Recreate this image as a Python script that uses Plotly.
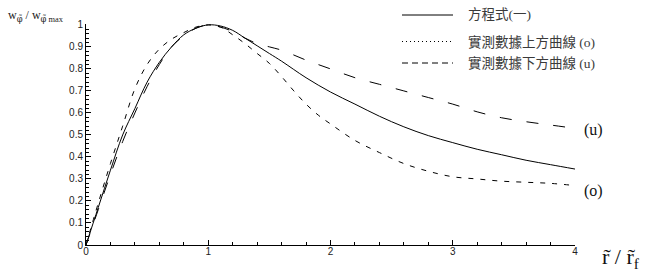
import plotly.graph_objects as go

# ---- data ----
x_eq = [0, 0.1, 0.2, 0.3, 0.4, 0.5, 0.6, 0.7, 0.8, 0.9, 1.0, 1.1, 1.2, 1.3, 1.4, 1.5, 1.6,
        1.8, 2.0, 2.2, 2.4, 2.6, 2.8, 3.0, 3.2, 3.4, 3.6, 3.8, 4.0]
y_eq = [0, 0.17, 0.34, 0.50, 0.62, 0.74, 0.83, 0.90, 0.955, 0.985, 1.0, 0.995, 0.975, 0.94,
        0.905, 0.87, 0.835, 0.76, 0.695, 0.64, 0.585, 0.537, 0.497, 0.465, 0.435, 0.41,
        0.385, 0.365, 0.345]

x_o = [0, 0.1, 0.2, 0.3, 0.4, 0.5, 0.6, 0.7, 0.8, 0.9, 1.0, 1.1, 1.2, 1.3, 1.4, 1.5, 1.6,
       1.7, 1.8, 1.9, 2.0, 2.2, 2.4, 2.6, 2.8, 3.0, 3.2, 3.4, 3.6, 3.8, 4.0]
y_o = [0, 0.19, 0.37, 0.54, 0.71, 0.82, 0.89, 0.935, 0.965, 0.99, 1.0, 0.99, 0.955, 0.915,
       0.87, 0.825, 0.765, 0.70, 0.64, 0.59, 0.55, 0.475, 0.42, 0.37, 0.335, 0.31, 0.30,
       0.29, 0.285, 0.28, 0.27]

x_u = [0, 0.1, 0.2, 0.3, 0.4, 0.5, 0.6, 0.7, 0.8, 0.9, 1.0, 1.1, 1.2, 1.3, 1.4, 1.5, 1.6,
       1.8, 2.0, 2.2, 2.4, 2.6, 2.8, 3.0, 3.2, 3.4, 3.6, 3.8, 4.0]
y_u = [0, 0.16, 0.32, 0.47, 0.60, 0.72, 0.82, 0.90, 0.95, 0.985, 1.0, 0.99, 0.97, 0.94,
       0.915, 0.90, 0.885, 0.84, 0.80, 0.76, 0.73, 0.70, 0.67, 0.64, 0.605, 0.578, 0.56,
       0.545, 0.53]

legend_labels = ["方程式(一)", "實測數據上方曲線 (o)", "實測數據下方曲線 (u)"]
x_ticks = [0, 1, 2, 3, 4]
y_ticks = [0, 0.1, 0.2, 0.3, 0.4, 0.5, 0.6, 0.7, 0.8, 0.9, 1]

W, H = 657, 277
ML, MR, MT, MB = 86, 82, 24, 32
PW, PH = W - ML - MR, H - MT - MB


def px_to_paper(px, py):
    return (px - ML) / PW, (H - MB - py) / PH


fig = go.Figure()
fig.add_trace(go.Scatter(x=x_eq, y=y_eq, mode="lines", line_shape="spline",
                         line=dict(color="black", width=1), showlegend=False))
fig.add_trace(go.Scatter(x=x_o, y=y_o, mode="lines", line_shape="spline",
                         line=dict(color="black", width=1, dash="5px,7px"), showlegend=False))
fig.add_trace(go.Scatter(x=x_u, y=y_u, mode="lines", line_shape="spline",
                         line=dict(color="black", width=1, dash="12px,15px"), showlegend=False))

serif = "Liberation Serif, Noto Sans CJK TC, serif"

# manual legend
leg_rows = [15, 41.5, 63]
leg_dash = ["solid", "1px,3px", "6px,4px"]
for lab, ry, dsh in zip(legend_labels, leg_rows, leg_dash):
    x0, y0 = px_to_paper(402, ry)
    x1, _ = px_to_paper(453, ry)
    fig.add_shape(type="line", xref="paper", yref="paper", x0=x0, x1=x1, y0=y0, y1=y0,
                  line=dict(color="black", width=1, dash=dsh))
    tx, ty = px_to_paper(466, ry)
    fig.add_annotation(xref="paper", yref="paper", x=tx, y=ty, xanchor="left", yanchor="middle",
                       text=lab, showarrow=False, font=dict(family=serif, size=13.5, color="#3a3a3a"))

# y-axis title
phi = "<span style='font-family:DejaVu Serif'>φ̃</span>"
ax, ay = px_to_paper(6, 16)
fig.add_annotation(xref="paper", yref="paper", x=ax, y=ay, xanchor="left", yanchor="middle",
                   text=f"w<sub>{phi}</sub> / w<sub>{phi} max</sub>", showarrow=False,
                   font=dict(family=serif, size=12, color="#222"))
# x-axis title
bx, by = px_to_paper(600, 258)
fig.add_annotation(xref="paper", yref="paper", x=bx, y=by, xanchor="left", yanchor="middle",
                   text="r̃ / r̃<sub>f</sub>", showarrow=False,
                   font=dict(family=serif, size=22, color="#111"))
# curve labels
for lab, py in [("(u)", 130), ("(o)", 191)]:
    cx, cy = px_to_paper(582, py)
    fig.add_annotation(xref="paper", yref="paper", x=cx, y=cy, xanchor="left", yanchor="middle",
                       text=lab, showarrow=False, font=dict(family=serif, size=16, color="#111"))

fig.update_layout(
    width=W, height=H,
    margin=dict(l=ML, r=MR, t=MT, b=MB, pad=0),
    plot_bgcolor="white", paper_bgcolor="white",
    xaxis=dict(range=[0, 4], tickvals=x_ticks, ticktext=[str(v) for v in x_ticks],
               showgrid=False, zeroline=False, showline=True, linecolor="black", linewidth=1,
               ticks="inside", ticklen=5, tickcolor="black", tickwidth=1,
               ticklabelstandoff=-3,
               tickfont=dict(family="Arial", size=10, color="#222"),
               minor=dict(dtick=0.2, ticks="inside", ticklen=3, tickcolor="black", showgrid=False)),
    yaxis=dict(range=[0, 1.004], tickvals=y_ticks, ticktext=[f"{v:g}" for v in y_ticks],
               showgrid=False, zeroline=False, showline=True, linecolor="black", linewidth=1,
               ticks="inside", ticklen=5, tickcolor="black", tickwidth=1,
               tickfont=dict(family="Arial", size=10, color="#222"),
               minor=dict(dtick=0.02, ticks="inside", ticklen=3, tickcolor="black", showgrid=False)),
)

fig.write_html("out.html")
